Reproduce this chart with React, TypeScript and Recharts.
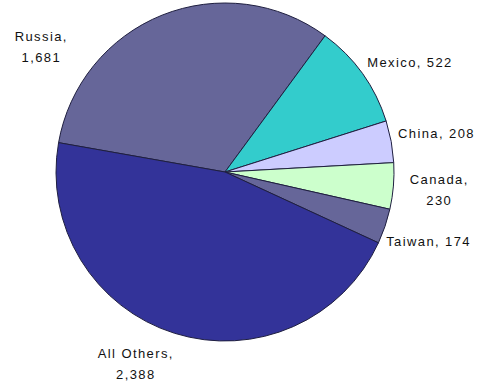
import React from "react";
import { PieChart, Pie, Cell } from "recharts";

// Source slices, clockwise from the left edge
const countries = ["Russia", "Mexico", "China", "Canada", "Taiwan", "All Others"];
const counts = [1681, 522, 208, 230, 174, 2388];
const sliceColors = ["#666699", "#33cccc", "#ccccff", "#ccffcc", "#666699", "#333399"];

// labels that wrap onto a second line
const twoLine = new Set(["Russia", "Canada", "All Others"]);
// hand-moved labels (degrees / radius extra), like the dragged labels in the original
const labelNudge: Record<string, { da: number; dr: number }> = {
    Russia: { da: 34, dr: 7 },
    Mexico: { da: -5, dr: 0 },
    "All Others": { da: -7.5, dr: -3 },
};

const data = countries.map((name, i) => ({ name, value: counts[i] }));

const RAD = Math.PI / 180;

const renderLabel = (props: any) => {
    const { cx, cy, midAngle, outerRadius, name, value } = props;
    const nudge = labelNudge[name] || { da: 0, dr: 0 };
    const angle = midAngle + nudge.da;
    const r = outerRadius + 46 + nudge.dr;
    const x = cx + r * Math.cos(angle * RAD);
    const y = cy - r * Math.sin(angle * RAD);
    const num = Number(value).toLocaleString("en-US");
    const common = {
        x,
        textAnchor: "middle" as const,
        dominantBaseline: "central" as const,
        fontFamily: "'Liberation Sans', Arial, sans-serif",
        fontSize: 13,
        letterSpacing: 1.4,
        fill: "#111",
    };
    if (twoLine.has(name)) {
        return (
            <g>
                <text {...common} y={y - 10.5}>{name},</text>
                <text {...common} y={y + 10.5}>{num}</text>
            </g>
        );
    }
    return (
        <text {...common} y={y}>
            {name}, {num}
        </text>
    );
};

export default function App() {
    return (
        <div style={{ width: 480, height: 389, background: "#fff" }}>
            <style>{`body{margin:0}`}</style>
            <PieChart width={480} height={389} margin={{ top: 0, right: 0, bottom: 0, left: 0 }}>
                <Pie
                    data={data}
                    dataKey="value"
                    nameKey="name"
                    cx={225}
                    cy={172}
                    outerRadius={169}
                    startAngle={170}
                    endAngle={-190}
                    stroke="#1f1f40"
                    strokeWidth={1}
                    label={renderLabel}
                    labelLine={false}
                    isAnimationActive={false}
                >
                    {data.map((d, i) => (
                        <Cell key={d.name} fill={sliceColors[i]} />
                    ))}
                </Pie>
            </PieChart>
        </div>
    );
}
